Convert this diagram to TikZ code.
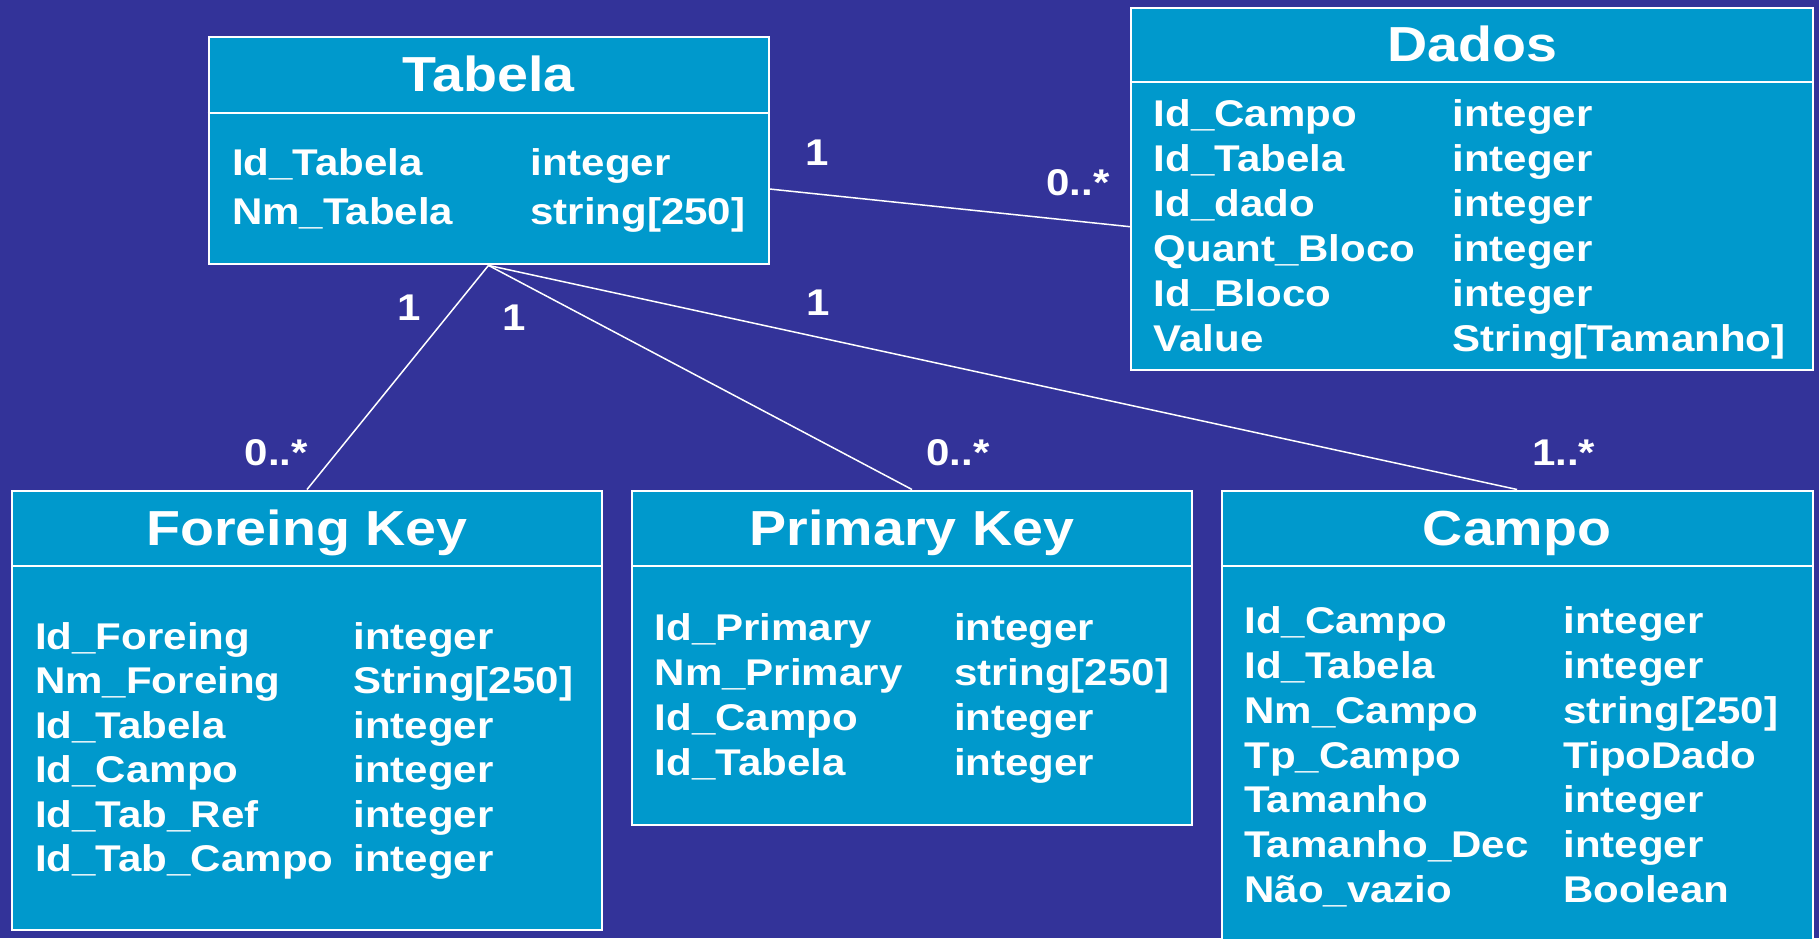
\documentclass[tikz,border=0pt]{standalone}
\usepackage{fontspec}
\setmainfont{Liberation Sans}[FakeStretch=1.13]
\usetikzlibrary{fit,calc}
\definecolor{slidebg}{RGB}{51,51,153}
\definecolor{classfill}{RGB}{0,153,204}
\tikzset{
  classbox/.style={draw=white, line width=1pt, fill=classfill, inner sep=0pt},
  divider/.style={draw=white, line width=1pt},
  assoc/.style={draw=white, line width=0.75pt},
  ctitle/.style={text=white, font=\bfseries\fontsize{24.6pt}{28pt}\selectfont, anchor=base, inner sep=0pt},
  attr/.style={text=white, font=\bfseries\fontsize{18.6pt}{22pt}\selectfont, anchor=base west, inner sep=0pt},
  mult/.style={attr},
}
\begin{document}
\begin{tikzpicture}[x=0.5pt,y=-0.5pt]
\useasboundingbox (0,0) rectangle (1819,938);
\clip (0,0) rectangle (1819,938);
\fill[slidebg] (0,0) rectangle (1819,938);

% class boxes
\node[classbox, fit={(208.5,37) (768.5,264.4)}] (tabela) {};
\node[classbox, fit={(1131,8) (1813,370)}] (dados) {};
\node[classbox, fit={(12,490.5) (602,930)}] (fk) {};
\node[classbox, fit={(632,490.5) (1192,824.5)}] (pk) {};
\node[classbox, fit={(1221.7,490.5) (1812.5,960)}] (campo) {};

% compartment dividers
\draw[divider] (tabela.west |- 0,112.5) -- (tabela.east |- 0,112.5);
\draw[divider] (dados.west |- 0,81.5) -- (dados.east |- 0,81.5);
\draw[divider] (fk.west |- 0,566) -- (fk.east |- 0,566);
\draw[divider] (pk.west |- 0,566) -- (pk.east |- 0,566);
\draw[divider] (campo.west |- 0,566) -- (campo.east |- 0,566);

% class names
\node[ctitle] (tabela-title) at (tabela.center |- 0,91.7) {Tabela};
\node[ctitle] (dados-title) at (dados.center |- 0,61) {Dados};
\node[ctitle] (fk-title) at (fk.center |- 0,545.7) {Foreing Key};
\node[ctitle] (pk-title) at (pk.center |- 0,545.7) {Primary Key};
\node[ctitle] (campo-title) at (campo.center |- 0,545.7) {Campo};

% attributes
\foreach \a/\b [count=\i from 0] in {Id\_Tabela/integer, Nm\_Tabela/string[250]} {
  \node[attr] (tabela-a\i) at (231.7, 175+49.3*\i) {\a};
  \node[attr] (tabela-b\i) at (530, 175+49.3*\i) {\b};
}
\foreach \a/\b [count=\i from 0] in {Id\_Campo/integer, Id\_Tabela/integer, Id\_dado/integer,
    Quant\_Bloco/integer, Id\_Bloco/integer, Value/String[Tamanho]} {
  \node[attr] (dados-a\i) at (1153.4, 126.7+44.86*\i) {\a};
  \node[attr] (dados-b\i) at (1452, 126.7+44.86*\i) {\b};
}
\foreach \a/\b [count=\i from 0] in {Id\_Foreing/integer, Nm\_Foreing/String[250], Id\_Tabela/integer,
    Id\_Campo/integer, Id\_Tab\_Ref/integer, Id\_Tab\_Campo/integer} {
  \node[attr] (fk-a\i) at (34.8, 649+44.55*\i) {\a};
  \node[attr] (fk-b\i) at (353.1, 649+44.55*\i) {\b};
}
\foreach \a/\b [count=\i from 0] in {Id\_Primary/integer, Nm\_Primary/string[250], Id\_Campo/integer,
    Id\_Tabela/integer} {
  \node[attr] (pk-a\i) at (654.4, 640+45*\i) {\a};
  \node[attr] (pk-b\i) at (953.7, 640+45*\i) {\b};
}
\foreach \a/\b [count=\i from 0] in {Id\_Campo/integer, Id\_Tabela/integer, Nm\_Campo/string[250],
    Tp\_Campo/TipoDado, Tamanho/integer, Tamanho\_Dec/integer, Não\_vazio/Boolean} {
  \node[attr] (campo-a\i) at (1244, 633.3+44.9*\i) {\a};
  \node[attr] (campo-b\i) at (1563, 633.3+44.9*\i) {\b};
}

% associations
\draw[assoc] (tabela.east |- dados.west) -- ($(dados.west)+(0,37.7)$);
\draw[assoc] (tabela.south) -- (fk.north);
\draw[assoc] (tabela.south) -- (pk.north);
\draw[assoc] (tabela.south) -- (campo.north);

% multiplicities
\node[mult] (m-tab-dados) at (805,165) {1};
\node[mult] (m-dados) at (1046,195) {0..*};
\node[mult] (m-tab-fk) at (397.4,320) {1};
\node[mult] (m-tab-pk) at (502,330.5) {1};
\node[mult] (m-tab-campo) at (806,315.5) {1};
\node[mult] (m-fk) at (244.4,465.7) {0..*};
\node[mult] (m-pk) at (926,465.7) {0..*};
\node[mult] (m-campo) at (1531.6,465.7) {1..*};
\end{tikzpicture}
\end{document}
